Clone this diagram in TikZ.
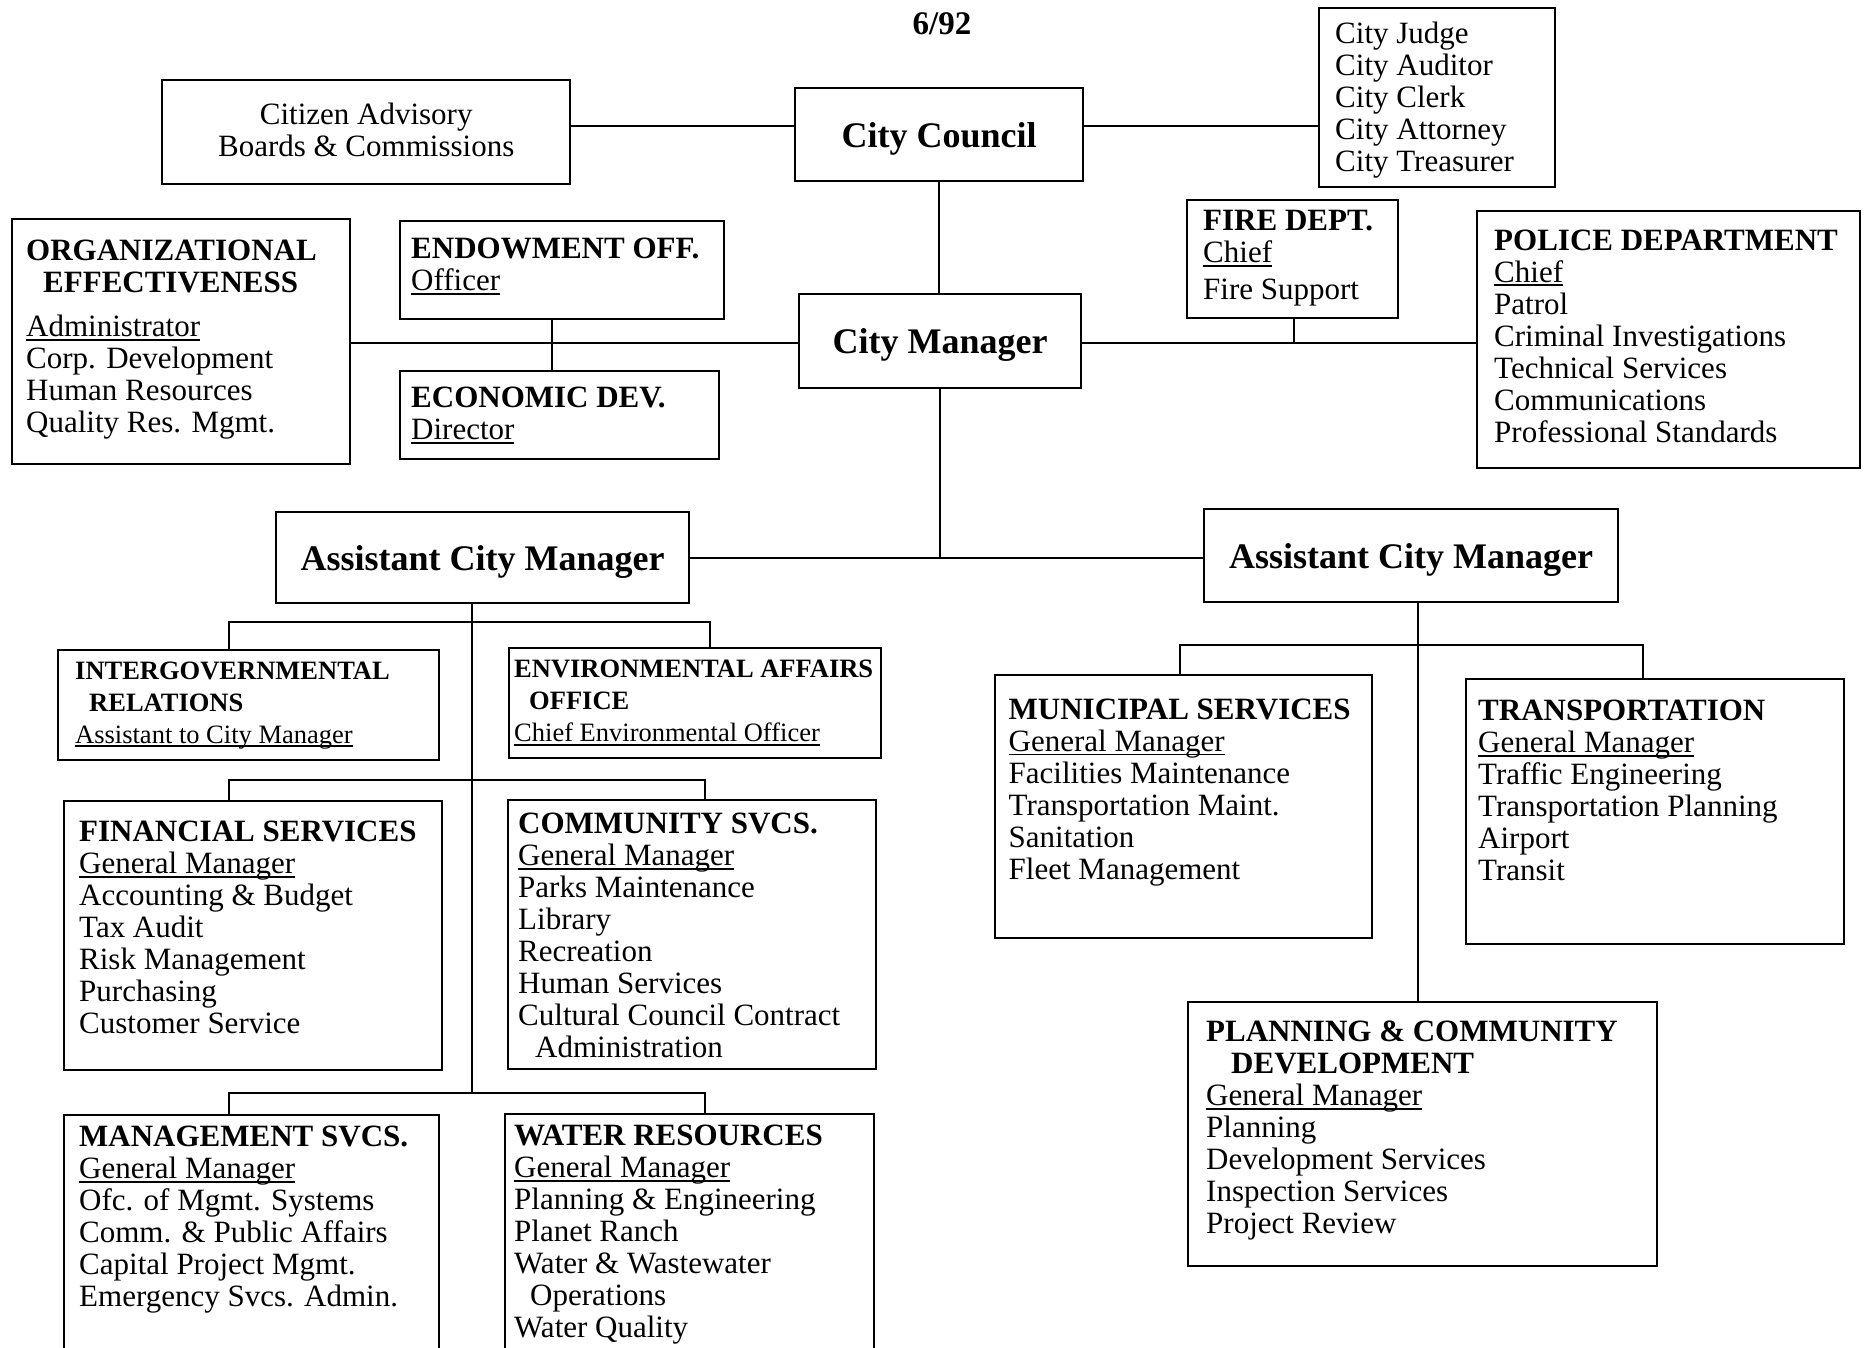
\documentclass[tikz,border=0pt]{standalone}
\usepackage{fontspec}
\setmainfont{Liberation Serif}
\newcommand{\uln}[1]{\leavevmode\setbox0=\hbox{#1}\rlap{\rule[-4pt]{\wd0}{1.8pt}}\box0}
\begin{document}
\begin{tikzpicture}[x=1pt,y=-1pt,
  box/.style={draw, line width=2.4pt, rectangle, inner sep=0pt, anchor=north west},
  txt/.style={anchor=north west, inner sep=0pt, align=left, font=\fontsize{31}{32}\selectfont},
  stxt/.style={anchor=north west, inner sep=0pt, align=left, font=\fontsize{26.5}{32}\selectfont},
  big/.style={inner sep=0pt, font=\bfseries\fontsize{36}{40}\selectfont},
  conn/.style={line width=2.4pt}]
\useasboundingbox (0,0) rectangle (1867,1348);
\fill[white] (0,0) rectangle (1867,1348);

% title
\node[inner sep=0pt, font=\bfseries\fontsize{33}{36}\selectfont] (date) at (942,24) {6/92};

% boxes
\node[box, minimum width=408pt, minimum height=104pt] (cab) at (161,79) {};
\node[box, minimum width=288pt, minimum height=93pt] (council) at (794,87) {};
\node[box, minimum width=236pt, minimum height=179pt] (officers) at (1318,7) {};
\node[box, minimum width=338pt, minimum height=245pt] (org) at (11,218) {};
\node[box, minimum width=324pt, minimum height=98pt] (endow) at (399,220) {};
\node[box, minimum width=319pt, minimum height=88pt] (econ) at (399,370) {};
\node[box, minimum width=282pt, minimum height=94pt] (cm) at (798,293) {};
\node[box, minimum width=211pt, minimum height=118pt] (fire) at (1186,199) {};
\node[box, minimum width=383pt, minimum height=257pt] (police) at (1476,210) {};
\node[box, minimum width=413pt, minimum height=91pt] (acmL) at (275,511) {};
\node[box, minimum width=414pt, minimum height=93pt] (acmR) at (1203,508) {};
\node[box, minimum width=381pt, minimum height=110pt] (inter) at (57,649) {};
\node[box, minimum width=372pt, minimum height=110pt] (env) at (508,647) {};
\node[box, minimum width=378pt, minimum height=269pt] (fin) at (63,800) {};
\node[box, minimum width=368pt, minimum height=269pt] (com) at (507,799) {};
\node[box, minimum width=375pt, minimum height=260pt] (mgmt) at (63,1114) {};
\node[box, minimum width=369pt, minimum height=260pt] (water) at (504,1113) {};
\node[box, minimum width=377pt, minimum height=263pt] (muni) at (994,674) {};
\node[box, minimum width=378pt, minimum height=265pt] (trans) at (1465,678) {};
\node[box, minimum width=469pt, minimum height=264pt] (plan) at (1187,1001) {};

% texts
\node[inner sep=0pt, align=center, font=\fontsize{31}{32}\selectfont] (cabT) at ([yshift=2.5pt]cab.center) {Citizen Advisory\\Boards \& Commissions};
\node[big] (councilT) at ([yshift=-4pt]council.center) {City Council};
\node[txt] (officersT) at (1335,22) {City Judge\\City Auditor\\City Clerk\\City Attorney\\City Treasurer};
\node[txt] (orgT) at (26,240) {\textbf{ORGANIZATIONAL}\\\hspace*{17pt}\textbf{EFFECTIVENESS}\\[12pt]\uln{Administrator}\\Corp. Development\\Human Resources\\Quality Res. Mgmt.};
\node[txt] (endowT) at (411,238) {\textbf{ENDOWMENT OFF.}\\\uln{Officer}};
\node[txt] (econT) at (411,387) {\textbf{ECONOMIC DEV.}\\\uln{Director}};
\node[big] (cmT) at ([yshift=-4pt]cm.center) {City Manager};
\node[txt] (fireT) at (1203,210.5) {\textbf{FIRE DEPT.}\\\uln{Chief}\\[5pt]Fire Support};
\node[txt] (policeT) at (1494,229.5) {\textbf{POLICE DEPARTMENT}\\\uln{Chief}\\Patrol\\Criminal Investigations\\Technical Services\\Communications\\Professional Standards};
\node[big] (acmLT) at ([yshift=-4pt]acmL.center) {Assistant City Manager};
\node[big] (acmRT) at ([yshift=-4pt]acmR.center) {Assistant City Manager};
\node[stxt] (interT) at (75,661.5) {\textbf{INTERGOVERNMENTAL}\\\hspace*{14pt}\textbf{RELATIONS}\\\uln{Assistant to City Manager}};
\node[stxt] (envT) at (514,660) {\textbf{ENVIRONMENTAL AFFAIRS}\\\hspace*{15pt}\textbf{OFFICE}\\\uln{Chief Environmental Officer}};
\node[txt] (finT) at (79,821) {\textbf{FINANCIAL SERVICES}\\\uln{General Manager}\\Accounting \& Budget\\Tax Audit\\Risk Management\\Purchasing\\Customer Service};
\node[txt] (comT) at (518,813) {\textbf{COMMUNITY SVCS.}\\\uln{General Manager}\\Parks Maintenance\\Library\\Recreation\\Human Services\\Cultural Council Contract\\\hspace*{17pt}Administration};
\node[txt] (mgmtT) at (79,1126) {\textbf{MANAGEMENT SVCS.}\\\uln{General Manager}\\Ofc. of Mgmt. Systems\\Comm. \& Public Affairs\\Capital Project Mgmt.\\Emergency Svcs. Admin.};
\node[txt] (waterT) at (514,1125) {\textbf{WATER RESOURCES}\\\uln{General Manager}\\Planning \& Engineering\\Planet Ranch\\Water \& Wastewater\\\hspace*{16pt}Operations\\Water Quality};
\node[txt] (muniT) at (1008.5,698.6) {\textbf{MUNICIPAL SERVICES}\\\uln{General Manager}\\Facilities Maintenance\\Transportation Maint.\\Sanitation\\Fleet Management};
\node[txt] (transT) at (1478,700) {\textbf{TRANSPORTATION}\\\uln{General Manager}\\Traffic Engineering\\Transportation Planning\\Airport\\Transit};
\node[txt] (planT) at (1206,1021) {\textbf{PLANNING \& COMMUNITY}\\\hspace*{25pt}\textbf{DEVELOPMENT}\\\uln{General Manager}\\Planning\\Development Services\\Inspection Services\\Project Review};

% helper coordinates
\coordinate (yA) at (0,126);
\coordinate (yM) at (0,343);
\coordinate (yA2) at (0,558);
\coordinate (xE) at (552,0);
\coordinate (xF) at (1294,0);
\coordinate (xL) at (472,0);
\coordinate (xLa) at (229,0);
\coordinate (xLb) at (710,0);
\coordinate (xLc) at (705,0);
\coordinate (yb1) at (0,622);
\coordinate (yb2) at (0,780);
\coordinate (yb3) at (0,1093);
\coordinate (xR) at (1418,0);
\coordinate (xRa) at (1180,0);
\coordinate (xRb) at (1643,0);
\coordinate (yr) at (0,645);

% connectors
\draw[conn] (cab.east |- yA) -- (council.west |- yA);
\draw[conn] (council.east |- yA) -- (officers.west |- yA);
\draw[conn] (council.south) -- (council.south |- cm.north);
\draw[conn] (org.east |- yM) -- (cm.west |- yM);
\draw[conn] (xE |- endow.south) -- (xE |- econ.north);
\draw[conn] (cm.east |- yM) -- (police.west |- yM);
\draw[conn] (xF |- fire.south) -- (xF |- yM);
\draw[conn] (cm.south) -- (cm.south |- yA2);
\draw[conn] (acmL.east |- yA2) -- (acmR.west |- yA2);
\draw[conn] (xL |- acmL.south) -- (xL |- yb3);
\draw[conn] (xLa |- inter.north) -- (xLa |- yb1) -- (xLb |- yb1) -- (xLb |- env.north);
\draw[conn] (xLa |- fin.north) -- (xLa |- yb2) -- (xLc |- yb2) -- (xLc |- com.north);
\draw[conn] (xLa |- mgmt.north) -- (xLa |- yb3) -- (xLc |- yb3) -- (xLc |- water.north);
\draw[conn] (xR |- acmR.south) -- (xR |- plan.north);
\draw[conn] (xRa |- muni.north) -- (xRa |- yr) -- (xRb |- yr) -- (xRb |- trans.north);
\end{tikzpicture}
\end{document}
